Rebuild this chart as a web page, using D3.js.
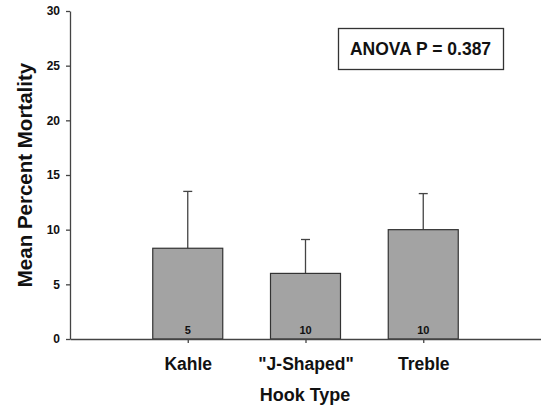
<!DOCTYPE html>
<html>
<head>
<meta charset="utf-8">
<script src="https://cdn.jsdelivr.net/npm/d3@7"></script>
<style>
  body { margin: 0; background: #fff; }
  text { font-family: "Liberation Sans", Arial, sans-serif; font-weight: bold; fill: #111; }
</style>
</head>
<body>
<script>
// data
const hookTypes = ["Kahle", "\"J-Shaped\"", "Treble"];
const meanMortality = [8.3, 6.0, 10.0];
const errUpper = [5.2, 3.1, 3.3];
const sampleSizes = [5, 10, 10];
const yTicks = [0, 5, 10, 15, 20, 25, 30];
const anovaLabel = "ANOVA P = 0.387";

const width = 541;
const height = 409;
const margin = { top: 11, right: 0, bottom: 70, left: 70 };

const svg = d3.select("body").append("svg")
    .attr("width", width)
    .attr("height", height);

const x = d3.scalePoint()
    .domain(hookTypes)
    .range([margin.left, width - margin.right])
    .padding(1);

const y = d3.scaleLinear()
    .domain([0, 30])
    .range([height - margin.bottom, margin.top]);

const barWidth = 70;
const data = hookTypes.map((h, i) => ({ h, mean: meanMortality[i], err: errUpper[i], n: sampleSizes[i] }));

// error bars (upper only), drawn behind bars
const eb = svg.append("g").attr("stroke", "#444").attr("stroke-width", 1.3);
eb.selectAll("line.stem")
  .data(data)
  .join("line")
    .attr("class", "stem")
    .attr("x1", d => x(d.h)).attr("x2", d => x(d.h))
    .attr("y1", d => y(d.mean)).attr("y2", d => y(d.mean + d.err));
eb.selectAll("line.cap")
  .data(data)
  .join("line")
    .attr("class", "cap")
    .attr("x1", d => x(d.h) - 4.5).attr("x2", d => x(d.h) + 4.5)
    .attr("y1", d => y(d.mean + d.err)).attr("y2", d => y(d.mean + d.err));

// bars
svg.append("g")
  .selectAll("rect")
  .data(data)
  .join("rect")
    .attr("x", d => x(d.h) - barWidth / 2)
    .attr("y", d => y(d.mean))
    .attr("width", barWidth)
    .attr("height", d => y(0) - y(d.mean))
    .attr("fill", "#a3a3a3")
    .attr("stroke", "#333")
    .attr("stroke-width", 1.2);

// sample sizes inside bars
svg.append("g")
  .selectAll("text")
  .data(data)
  .join("text")
    .attr("x", d => x(d.h))
    .attr("y", y(0) - 5)
    .attr("text-anchor", "middle")
    .style("font-size", "11px")
    .text(d => d.n);

// y axis
const yAxis = svg.append("g")
    .attr("transform", `translate(${margin.left},0)`)
    .call(d3.axisLeft(y).tickValues(yTicks).tickSize(4).tickSizeOuter(0).tickPadding(6));
yAxis.selectAll("text").style("font-size", "12px").attr("fill", "#111");

// x axis
const xAxis = svg.append("g")
    .attr("transform", `translate(0,${y(0)})`)
    .call(d3.axisBottom(x).tickSize(4).tickSizeOuter(0).tickPadding(15));
xAxis.selectAll("text").style("font-size", "17.5px").attr("fill", "#111");

svg.selectAll(".domain, .tick line").attr("stroke", "#444").attr("stroke-width", 1.3);

// axis titles
svg.append("text")
    .attr("x", 305)
    .attr("y", 401)
    .attr("text-anchor", "middle")
    .style("font-size", "18px")
    .text("Hook Type");

svg.append("text")
    .attr("transform", "translate(32,175) rotate(-90)")
    .attr("text-anchor", "middle")
    .style("font-size", "20.5px")
    .text("Mean Percent Mortality");

// ANOVA box
svg.append("rect")
    .attr("x", 338.5).attr("y", 28.5)
    .attr("width", 165).attr("height", 41)
    .attr("fill", "#fff")
    .attr("stroke", "#333")
    .attr("stroke-width", 1.3);
svg.append("text")
    .attr("x", 420.5)
    .attr("y", 54.5)
    .attr("text-anchor", "middle")
    .style("font-size", "17.5px")
    .text(anovaLabel);
</script>
</body>
</html>
